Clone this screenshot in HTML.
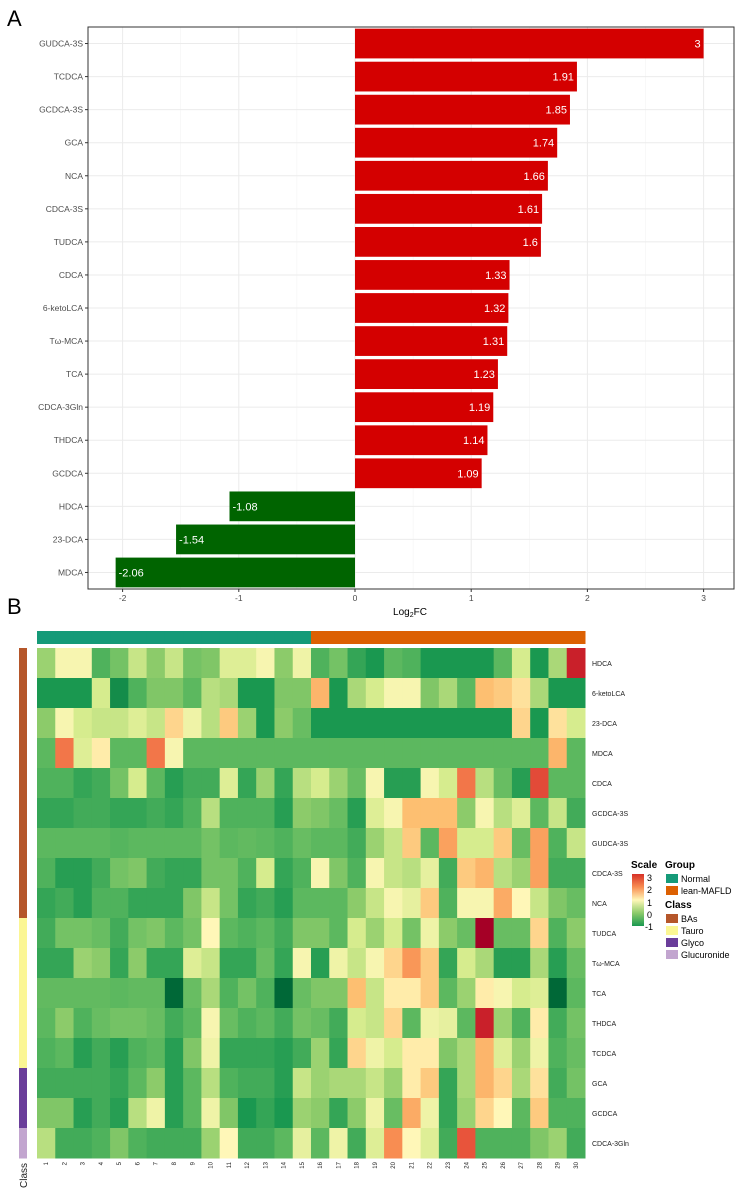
<!DOCTYPE html>
<html><head><meta charset="utf-8"><style>
html,body{margin:0;padding:0;background:#fff;}
svg{display:block;font-family:"Liberation Sans",sans-serif;}
</style></head><body>
<svg id="fig" width="745" height="1198" viewBox="0 0 745 1198" xmlns="http://www.w3.org/2000/svg">
<text x="7" y="26" font-size="22">A</text>
<text x="7" y="614" font-size="22">B</text>
<g id="barchart"></g>
<g id="heatmap"></g>
<g id="legend">
  <text x="631" y="868" font-size="10" font-weight="bold">Scale</text>
  <defs><linearGradient id="sg" x1="0" y1="1" x2="0" y2="0">
    <stop offset="0" stop-color="#1a9850"/><stop offset="0.25" stop-color="#8ccb6a"/><stop offset="0.5" stop-color="#fff7b8"/><stop offset="0.75" stop-color="#f88d52"/><stop offset="1" stop-color="#d73027"/></linearGradient></defs>
  <rect x="632" y="874" width="12" height="52" fill="url(#sg)"/>
  <text x="647" y="881" font-size="9">3</text>
  <text x="647" y="893" font-size="9">2</text>
  <text x="647" y="906" font-size="9">1</text>
  <text x="647" y="918" font-size="9">0</text>
  <text x="645" y="930" font-size="9">-1</text>
  <text x="665" y="868" font-size="10" font-weight="bold">Group</text>
  <rect x="666" y="874" width="12" height="9" fill="#159a78"/>
  <text x="681" y="882" font-size="9">Normal</text>
  <rect x="666" y="886" width="12" height="9" fill="#dc6002"/>
  <text x="681" y="894" font-size="9">lean-MAFLD</text>
  <text x="665" y="908" font-size="10" font-weight="bold">Class</text>
  <rect x="666" y="914" width="12" height="9" fill="#b5562a"/>
  <text x="681" y="922" font-size="9">BAs</text>
  <rect x="666" y="926" width="12" height="9" fill="#fbf694"/>
  <text x="681" y="934" font-size="9">Tauro</text>
  <rect x="666" y="938" width="12" height="9" fill="#6a3d9a"/>
  <text x="681" y="946" font-size="9">Glyco</text>
  <rect x="666" y="950" width="12" height="9" fill="#c2a5cf"/>
  <text x="681" y="958" font-size="9">Glucuronide</text>
</g>
</svg>
<script>
const NS="http://www.w3.org/2000/svg";
// ---- Bar chart data ----
const barCategories=["GUDCA-3S","TCDCA","GCDCA-3S","GCA","NCA","CDCA-3S","TUDCA","CDCA","6-ketoLCA","T\u03c9-MCA","TCA","CDCA-3Gln","THDCA","GCDCA","HDCA","23-DCA","MDCA"];
const barValues=[3,1.91,1.85,1.74,1.66,1.61,1.6,1.33,1.32,1.31,1.23,1.19,1.14,1.09,-1.08,-1.54,-2.06];
const barLabels=["3","1.91","1.85","1.74","1.66","1.61","1.6","1.33","1.32","1.31","1.23","1.19","1.14","1.09","-1.08","-1.54","-2.06"];
const xTicks=[-2,-1,0,1,2,3];
// ---- Heatmap data ----
const hmRows=["HDCA","6-ketoLCA","23-DCA","MDCA","CDCA","GCDCA-3S","GUDCA-3S","CDCA-3S","NCA","TUDCA","T\u03c9-MCA","TCA","THDCA","TCDCA","GCA","GCDCA","CDCA-3Gln"];
const hmCols=["1","2","3","4","5","6","7","8","9","10","11","12","13","14","15","16","17","18","19","20","21","22","23","24","25","26","27","28","29","30"];
const hmGroups=["Normal","Normal","Normal","Normal","Normal","Normal","Normal","Normal","Normal","Normal","Normal","Normal","Normal","Normal","Normal","lean-MAFLD","lean-MAFLD","lean-MAFLD","lean-MAFLD","lean-MAFLD","lean-MAFLD","lean-MAFLD","lean-MAFLD","lean-MAFLD","lean-MAFLD","lean-MAFLD","lean-MAFLD","lean-MAFLD","lean-MAFLD","lean-MAFLD"];
const hmClasses=["BAs","BAs","BAs","BAs","BAs","BAs","BAs","BAs","BAs","Tauro","Tauro","Tauro","Tauro","Tauro","Glyco","Glyco","Glucuronide"];
const hmValues=[
[0.1,0.9,0.9,-0.5,-0.2,0.4,0,0.4,-0.2,-0.1,0.6,0.6,0.9,0,0.8,-0.5,-0.2,-0.7,-0.9,-0.4,-0.5,-0.9,-0.9,-0.9,-0.9,-0.4,0.5,-0.9,0.2,3],
[-0.9,-0.9,-0.9,0.5,-1,-0.5,-0.1,-0.1,-0.4,0.3,0.2,-0.9,-0.9,-0.1,-0.1,1.6,-0.9,0.2,0.5,0.9,0.9,-0.1,0.2,-0.4,1.5,1.4,1.2,0.2,-0.9,-0.9],
[0,0.9,0.5,0.4,0.4,0.6,0.4,1.3,0.8,0.3,1.4,0.1,-0.9,0,-0.3,-0.9,-0.9,-0.9,-0.9,-0.9,-0.9,-0.9,-0.9,-0.9,-0.9,-0.9,1.3,-0.9,1.2,0.5],
[-0.4,2.2,0.6,1.1,-0.4,-0.4,2.2,0.9,-0.4,-0.4,-0.4,-0.4,-0.4,-0.4,-0.4,-0.4,-0.4,-0.4,-0.4,-0.4,-0.4,-0.4,-0.4,-0.4,-0.4,-0.4,-0.4,-0.4,1.6,-0.4],
[-0.5,-0.5,-0.7,-0.6,-0.2,0.5,-0.4,-0.8,-0.6,-0.6,0.6,-0.7,0.1,-0.7,0.3,0.5,0.1,-0.3,0.9,-0.8,-0.8,0.9,0.5,2.2,0.3,-0.3,-0.8,2.6,-0.4,-0.4],
[-0.7,-0.7,-0.6,-0.6,-0.7,-0.7,-0.6,-0.7,-0.5,0.3,-0.5,-0.5,-0.5,-0.8,0,-0.1,-0.3,-0.8,0.6,0.9,1.5,1.5,1.5,0,0.9,0.3,0.6,-0.4,0.4,-0.6],
[-0.4,-0.4,-0.4,-0.4,-0.45,-0.4,-0.4,-0.4,-0.4,-0.2,-0.4,-0.35,-0.4,-0.5,-0.3,-0.4,-0.4,-0.6,0.1,0.4,1.4,-0.4,1.8,0.5,0.5,1.4,-0.3,1.8,-0.5,0.4],
[-0.5,-0.8,-0.8,-0.6,-0.2,-0.1,-0.6,-0.7,-0.7,-0.2,-0.2,-0.5,0.5,-0.7,-0.5,0.9,-0.1,-0.5,0.9,0.4,0.3,0.7,-0.6,1.4,1.6,0.3,0.1,1.8,-0.6,-0.6],
[-0.7,-0.6,-0.8,-0.5,-0.5,-0.7,-0.7,-0.7,-0.1,0.4,-0.2,-0.7,-0.6,-0.8,-0.4,-0.4,-0.4,0,0.4,0.9,0.7,1.4,-0.5,0.9,0.9,1.7,1,0.4,-0.1,-0.3],
[-0.6,-0.2,-0.2,-0.3,-0.6,-0.2,-0.1,-0.4,-0.2,1,-0.4,-0.5,-0.4,-0.6,-0.1,-0.1,-0.4,0.5,0.1,0.5,-0.2,0.8,0,-0.3,3.3,-0.3,-0.3,1.3,-0.5,0],
[-0.7,-0.7,0.1,0,-0.7,0,-0.7,-0.7,0.6,0.4,-0.7,-0.7,-0.3,-0.7,0.9,-0.8,0.8,0.4,0.9,1.3,1.9,1.4,-0.7,0.5,0.2,-0.8,-0.8,0.2,-0.8,-0.3],
[-0.35,-0.35,-0.35,-0.35,-0.4,-0.35,-0.35,-1.3,-0.3,0.2,-0.5,-0.2,-0.5,-1.3,-0.3,-0.1,-0.1,1.5,0.4,1.1,1.1,1.4,-0.4,0.1,1.1,0.9,0.5,0.6,-1.3,-0.4],
[-0.4,0,-0.5,-0.3,-0.2,-0.2,-0.3,-0.6,-0.4,0.9,-0.3,-0.5,-0.4,-0.6,-0.2,-0.3,-0.6,0.5,0.4,1.3,-0.4,0.8,0.7,-0.4,3,0.1,-0.5,1.1,-0.6,-0.2],
[-0.5,-0.4,-0.8,-0.6,-0.8,-0.5,-0.4,-0.8,-0.1,0.8,-0.7,-0.7,-0.7,-0.8,-0.6,0.1,-0.7,1.3,0.8,0.5,1.1,1.1,-0.1,0.2,1.6,0.6,0.1,0.8,-0.5,-0.3],
[-0.6,-0.6,-0.6,-0.6,-0.7,-0.4,0,-0.8,-0.4,0.3,-0.5,-0.6,-0.6,-0.8,0.4,0.1,0.2,0.2,0.4,0.1,1.1,1.4,-0.7,0.2,1.6,1.3,0.2,1.2,-0.6,-0.2],
[-0.1,-0.1,-0.8,-0.6,-0.8,0.3,0.8,-0.8,-0.4,0.8,-0.1,-0.9,-0.7,-0.9,0.1,0,-0.7,0,0.8,-0.3,1.7,0.8,-0.7,0.1,1.3,1,-0.4,1.4,-0.5,-0.5],
[0.3,-0.6,-0.6,-0.5,-0.1,-0.5,-0.6,-0.6,-0.6,0.1,1,-0.6,-0.6,-0.4,0.7,-0.4,0.8,-0.6,0.6,2,1,0.6,-0.6,2.5,-0.5,-0.5,-0.5,-0.1,0.1,-0.6]
];
const groupColors={"Normal":"#159a78","lean-MAFLD":"#dc6002"};
const classColors={"BAs":"#b5562a","Tauro":"#fbf694","Glyco":"#6a3d9a","Glucuronide":"#c2a5cf"};

function mk(tag,attrs,parent){const e=document.createElementNS(NS,tag);for(const k in attrs)e.setAttribute(k,attrs[k]);parent.appendChild(e);return e;}

// ---- Bar chart ----
const bc=document.getElementById('barchart');
const PL=88,PR=734,PT=27,PB=589;
const x0=355,unit=116.2;
const xs=v=>x0+v*unit;
const step=(PB-PT)/barCategories.length;
const ys=i=>PT+step*(i+0.5);
const frame=mk('rect',{x:PL,y:PT,width:PR-PL,height:PB-PT,fill:'#fff',stroke:'none'},bc);


for(let i=0;i<xTicks.length;i++){
  const gx=mk('line',{x1:xs(xTicks[i]),x2:xs(xTicks[i]),y1:PT,y2:PB,stroke:'#ebebeb','stroke-width':1},bc);
  
  
  if(i<xTicks.length-1){
    const gm=mk('line',{x1:xs(xTicks[i]+0.5),x2:xs(xTicks[i]+0.5),y1:PT,y2:PB,stroke:'#f4f4f4','stroke-width':0.6},bc);
    
    
  }
}
barCategories.forEach((c,i)=>{
  const gy=mk('line',{x1:PL,x2:PR,y1:ys(i),y2:ys(i),stroke:'#ebebeb','stroke-width':1},bc);
  
  
});
barCategories.forEach((c,i)=>{
  const v=barValues[i];
  const h=step*0.9;
  const r=mk('rect',{x:Math.min(xs(0),xs(v)),y:ys(i)-h/2,width:Math.abs(xs(v)-xs(0)),height:h,fill:v>=0?'#d40000':'#006400'},bc);
  
  
  const t=mk('text',{x:v>=0?xs(v)-3:xs(v)+3,y:ys(i)+4,'font-size':11,fill:'#fff','text-anchor':v>=0?'end':'start'},bc);
  t.textContent=barLabels[i];
  
  
  const yl=mk('text',{x:PL-5,y:ys(i)+3,'font-size':8.5,fill:'#4d4d4d','text-anchor':'end'},bc);
  yl.textContent=c;
  
  
  const tk=mk('line',{x1:PL-3,x2:PL,y1:ys(i),y2:ys(i),stroke:'#333','stroke-width':1},bc);
  
  
});
const border=mk('rect',{x:PL,y:PT,width:PR-PL,height:PB-PT,fill:'none',stroke:'#333','stroke-width':1},bc);


xTicks.forEach(v=>{
  const tk=mk('line',{x1:xs(v),x2:xs(v),y1:PB,y2:PB+3,stroke:'#333'},bc);
  
  
  const t=mk('text',{x:xs(v),y:PB+12,'font-size':8.5,fill:'#4d4d4d','text-anchor':'middle'},bc);
  t.textContent=String(v);
  
  
});
const xt=mk('text',{x:(PL+PR)/2-1,y:PB+26,'font-size':10,fill:'#000','text-anchor':'middle'},bc);
xt.innerHTML='Log<tspan font-size="7" dy="2">2</tspan><tspan dy="-2">FC</tspan>';



// ---- Heatmap ----
const hm=document.getElementById('heatmap');
const HL=37,HR=585,HT=648,RH=30;
const CW=(HR-HL)/hmCols.length;
const stops=[[-1.3,[0,104,55]],[-0.9,[26,152,80]],[-0.4,[92,184,95]],[0,[140,203,106]],[0.5,[214,236,142]],[1,[255,247,184]],[1.5,[253,191,113]],[2,[248,141,82]],[2.5,[232,84,59]],[3,[201,32,42]],[3.3,[165,0,38]]];
function col(v){
  if(v<=stops[0][0])return 'rgb('+stops[0][1]+')';
  for(let i=1;i<stops.length;i++){
    if(v<=stops[i][0]){const a=stops[i-1],b=stops[i];const t=(v-a[0])/(b[0]-a[0]);
      return 'rgb('+a[1].map((c,k)=>Math.round(c+(b[1][k]-c)*t)).join(',')+')';}
  }
  return 'rgb('+stops[stops.length-1][1]+')';
}
hmCols.forEach((c,j)=>{
  const g=mk('rect',{x:HL+j*CW,y:631,width:CW+0.5,height:13,fill:groupColors[hmGroups[j]]},hm);
  
  
});
hmRows.forEach((r,i)=>{
  hmCols.forEach((c,j)=>{
    const cell=mk('rect',{x:HL+j*CW,y:HT+i*RH,width:CW+0.5,height:RH+0.5,fill:col(hmValues[i][j])},hm);
    
    
  });
  const ca=mk('rect',{x:19,y:HT+i*RH,width:8,height:RH+0.5,fill:classColors[hmClasses[i]]},hm);
  
  
  const t=mk('text',{x:592,y:HT+i*RH+RH/2+3,'font-size':7,fill:'#222'},hm);
  t.textContent=r;
  
  
});
hmCols.forEach((c,j)=>{
  const cx=HL+(j+0.5)*CW;
  const t=mk('text',{x:cx+2,y:1162,'font-size':6,fill:'#222','text-anchor':'end',transform:'rotate(-90 '+(cx+2)+' 1162)'},hm);
  t.setAttribute('text-anchor','end');
  t.textContent=c;
  
  
});
const cl=mk('text',{x:27,y:1188,'font-size':10,fill:'#222',transform:'rotate(-90 27 1188)'},hm);
cl.textContent='Class';


</script>
</body></html>
